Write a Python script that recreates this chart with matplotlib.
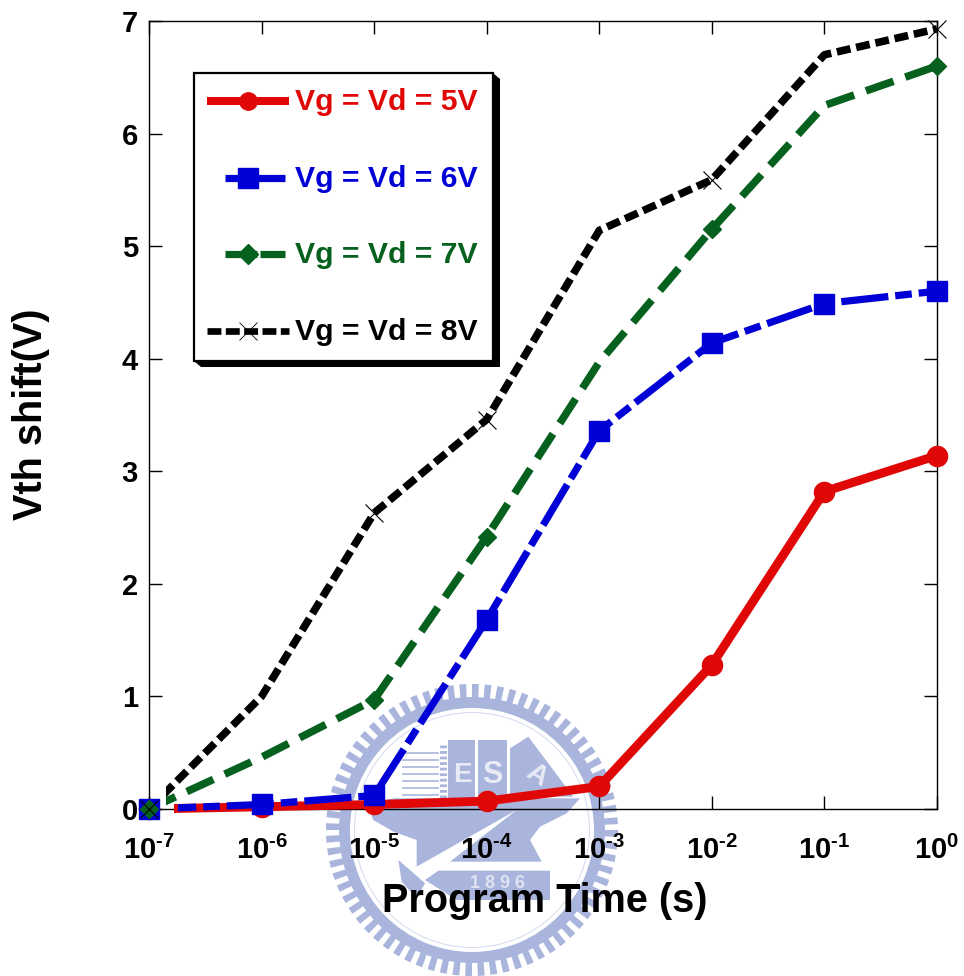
"""Vth shift vs program time, four Vg = Vd conditions, with the faint school seal behind."""

import numpy as np
import matplotlib
matplotlib.use("Agg")
import matplotlib.pyplot as plt
from matplotlib.patches import Polygon, Rectangle, Wedge
from matplotlib.ticker import FixedLocator, FuncFormatter, NullLocator

plt.rcParams["font.family"] = ["Liberation Sans", "DejaVu Sans"]
plt.rcParams["font.weight"] = "bold"
plt.rcParams["mathtext.fontset"] = "custom"
plt.rcParams["mathtext.bf"] = "Liberation Sans:bold"
plt.rcParams["mathtext.rm"] = "Liberation Sans:bold"
plt.rcParams["mathtext.default"] = "bf"
plt.rcParams["lines.scale_dashes"] = False

# data
program_time = [1e-7, 1e-6, 1e-5, 1e-4, 1e-3, 1e-2, 1e-1, 1e0]
shift_5v = [0.0, 0.02, 0.04, 0.07, 0.20, 1.28, 2.82, 3.14]
shift_6v = [0.0, 0.04, 0.12, 1.68, 3.36, 4.14, 4.49, 4.60]
shift_7v = [0.0, 0.46, 0.97, 2.42, 3.97, 5.15, 6.25, 6.60]
shift_8v = [0.0, 1.00, 2.63, 3.46, 5.14, 5.59, 6.70, 6.93]
labels = ["Vg = Vd = 5V", "Vg = Vd = 6V", "Vg = Vd = 7V", "Vg = Vd = 8V"]
y_ticks = [0, 1, 2, 3, 4, 5, 6, 7]

RED = "#e00707"
BLUE = "#0000d6"
GREEN = "#06601e"
BLACK = "#000000"
SEAL = "#a9b5dc"

W, H = 964, 976
AX_L, AX_R, AX_T, AX_B = 149, 937, 21, 809
fig = plt.figure(figsize=(W / 100, H / 100), dpi=100)

# overlay in pixel coordinates, for the seal
back = fig.add_axes([0, 0, 1, 1], zorder=0)
back.set_xlim(0, W)
back.set_ylim(H, 0)
back.axis("off")

ax = fig.add_axes([AX_L / W, 1 - AX_B / H, (AX_R - AX_L) / W, (AX_B - AX_T) / H], zorder=1)
ax.patch.set_alpha(0)


def seal_poly(points, **kw):
    # outline points are in pixels of the 3x crop around the seal
    pts = [(310 + x / 3, 680 + y / 3) for x, y in points]
    back.add_patch(Polygon(pts, closed=True, color=kw.pop("color", SEAL), lw=0, **kw))


# ── seal ────────────────────────────────────────────────────────────────
cx, cy, r = 472, 830, 146
for a in np.arange(0, 360, 5.0):
    back.add_patch(Wedge((cx, cy), r, a, a + 2.7, width=16, color=SEAL, lw=0))
back.add_patch(Wedge((cx, cy), r - 13, 0, 360, width=11, color=SEAL, lw=0))
back.add_patch(Wedge((cx, cy), r - 28, 0, 360, width=1.0, color="#d5dbee", lw=0))

# striped block and the two towers
for yy in np.arange(753, 799, 7):
    back.plot([403, 438], [yy, yy], color=SEAL, lw=1.2)
back.plot([443, 443], [745, 798], color=SEAL, lw=5, ls=(0, (2, 2)))
seal_poly([(415, 180), (495, 180), (495, 360), (415, 360)])
seal_poly([(505, 180), (590, 180), (590, 360), (505, 360)])
seal_poly([(600, 205), (655, 170), (790, 350), (600, 350)])
# land mass with the white diagonal across it
seal_poly([(255, 355), (810, 355), (770, 400), (690, 440), (660, 480), (695, 545), (420, 545),
           (620, 390), (320, 560), (320, 480), (250, 455), (190, 420), (170, 370)])
seal_poly([(265, 540), (300, 570), (345, 610), (320, 655), (275, 605)])
seal_poly([(345, 600), (385, 572), (720, 572), (720, 660), (440, 660)])
for txt, x, y, size, rot in [("E", 462, 775, 20, 0), ("S", 492, 775, 22, 0), ("A", 537, 775, 20, -32)]:
    back.text(x, y, txt, color="#e8ebf6", fontsize=size, rotation=rot, ha="center", va="center")
back.text(497, 884, "1 8 9 6", color="#dfe3f2", fontsize=13, ha="center", va="center")

# ── curves: line and markers are separate, the lines stop short of the first marker ──
curves = [
    (shift_5v, RED, 6.4, "-", "o", 14.5, 1, None, 174, 3),
    (shift_6v, BLUE, 5.2, (0, (34, 5, 12, 5)), "s", 13.8, 1, None, 178, 4),
    (shift_7v, GREEN, 5.5, (0, (21, 9)), "D", 9, 1, [0, 2, 3, 5, 7], 166, 5),
    (shift_8v, BLACK, 5.5, (0, (10, 4.2)), "x", 13, 0.8, [0, 2, 3, 5, 7], 166, 6),
]
for values, col, lw, ls, mk, ms, mew, every, start, z in curves:
    line, = ax.plot(program_time, values, color=col, lw=lw, ls=ls, zorder=z,
                    dash_capstyle="butt", solid_capstyle="butt", solid_joinstyle="miter")
    clip = Rectangle(((start - AX_L) / (AX_R - AX_L), -0.1), 1.1, 1.2, transform=ax.transAxes)
    line.set_clip_path(clip)
    ax.plot(program_time, values, color=col, ls="none", marker=mk, ms=ms, mew=mew,
            markevery=every, clip_on=False, zorder=z)

ax.set_xscale("log")
ax.set_xlim(1e-7, 1e0)
ax.set_ylim(0, 7)
ax.xaxis.set_major_locator(FixedLocator(program_time))
ax.xaxis.set_minor_locator(NullLocator())
ax.xaxis.set_major_formatter(FuncFormatter(lambda v, _: f"$10^{{\\text{{-}}{abs(round(np.log10(v)))}}}$"
                                           if v < 1 else "$10^{0}$"))
ax.set_yticks(y_ticks)
ax.tick_params(axis="both", which="major", direction="in", length=9.5, width=1.0,
               top=True, right=True, labelsize=21)
ax.tick_params(axis="x", pad=19)
ax.tick_params(axis="y", pad=8)
for spine in ax.spines.values():
    spine.set_linewidth(1.0)

fig.text(545 / W, 1 - 901 / H, "Program Time (s)", fontsize=28.5, fontweight="bold",
         ha="center", va="center", zorder=5)
fig.text(31 / W, 1 - 414 / H, "Vth shift(V)", fontsize=28.5, fontweight="bold",
         rotation=90, ha="center", va="center", zorder=5)

# ── legend box with hard shadow ─────────────────────────────────────────
leg = fig.add_axes([0, 0, 1, 1], zorder=2)
leg.set_xlim(0, W)
leg.set_ylim(H, 0)
leg.axis("off")
leg.add_patch(Polygon([[493, 73], [500, 79], [500, 367], [201, 367], [194, 361]],
                      color="black", lw=0, zorder=1))
leg.add_patch(Rectangle((194, 73), 299, 288, fc="white", ec="black", lw=1.6, zorder=2))

rows = [
    (101, 207, 289, RED, 5.8, "o", 12.5, "-"),
    (178, 225, 285, BLUE, 5.2, "s", 14, "-"),
    (254, 225, 285, GREEN, 5.2, "D", 10, (0, (23, 2.2, 18, 100))),
    (331, 207, 289, BLACK, 4.8, "x", 13, (0, (10, 3.2))),
]
for (y, x0, x1, col, lw, mk, ms, ls), lab in zip(rows, labels):
    leg.plot([x0, x1], [y, y], color=col, lw=lw, ls=ls, dash_capstyle="butt",
             solid_capstyle="butt", zorder=3)
    leg.plot([248], [y], color=col, marker=mk, ms=ms, mew=0.6 if mk == "x" else 1, zorder=4)
    leg.text(295, y + 1, lab, color=col, fontsize=21.7, fontweight="bold",
             ha="left", va="center", zorder=4)

fig.savefig("out.png", dpi=100)
plt.close(fig)
